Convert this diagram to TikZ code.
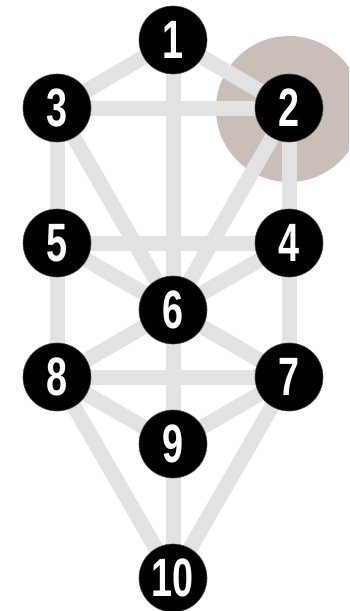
\documentclass[tikz,border=0pt]{standalone}
\usepackage{fontspec}
\setmainfont{Liberation Sans}
\definecolor{linegray}{HTML}{E2E2E2}
\definecolor{halo}{HTML}{C9BEBA}
\tikzset{
  sef/.style={circle, fill=black, draw=black!70, line width=0.6pt, minimum size=68pt, inner sep=0pt,
    text=white, font=\fontsize{54}{54}\selectfont\bfseries},
  path/.style={draw=linegray, line width=15pt}
}
\newcommand{\dg}[1]{\scalebox{0.7}[1]{#1}}
\begin{document}
\begin{tikzpicture}[x=1pt,y=-1pt]
\useasboundingbox (0,0) rectangle (349,611);
\clip (0,0) rectangle (349,611);
\fill[halo] (289,109) circle (73);
\coordinate (p1) at (173,40);
\coordinate (p2) at (289,108);
\coordinate (p3) at (57,108);
\coordinate (p4) at (289,243);
\coordinate (p5) at (57,243);
\coordinate (p6) at (173,310);
\coordinate (p7) at (289,377);
\coordinate (p8) at (57,377);
\coordinate (p9) at (173,444);
\coordinate (p10) at (173,578);
\foreach \a/\b in {1/3,1/2,1/6,3/2,3/5,3/6,2/4,2/6,5/4,5/6,4/6,5/8,4/7,6/8,6/7,8/7,6/9,8/9,7/9,8/10,7/10,9/10}
  \draw[path] (p\a) -- (p\b);
\foreach \i in {1,...,10}
  \node[sef] (n\i) at (p\i) {\dg{\i}};
\end{tikzpicture}
\end{document}
